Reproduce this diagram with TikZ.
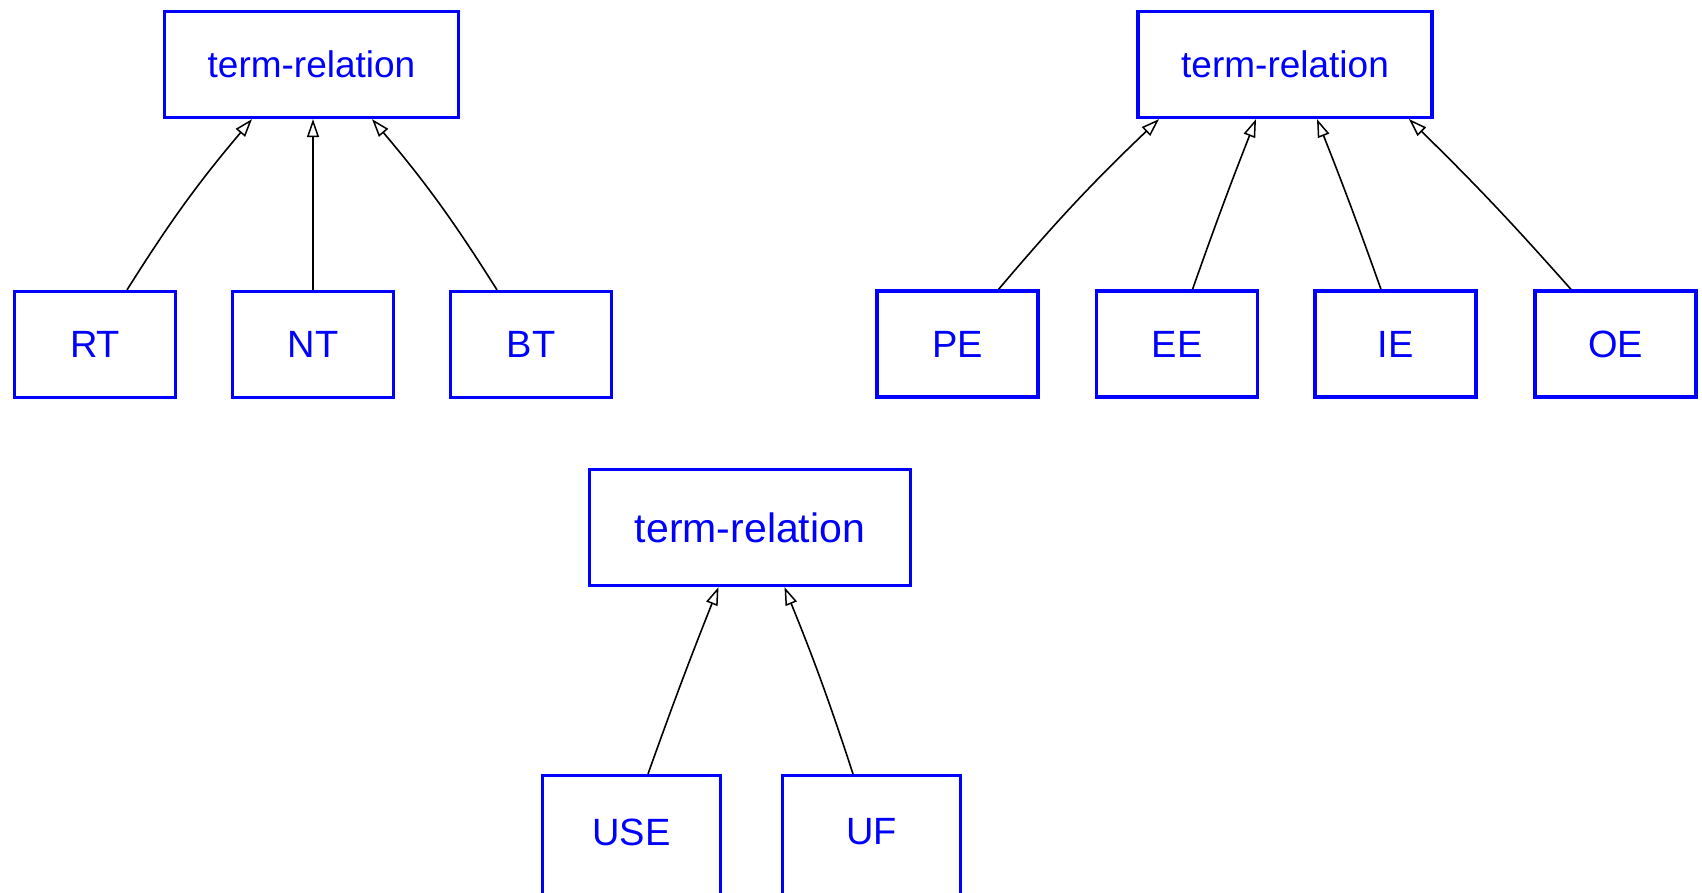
\documentclass[tikz,border=0pt]{standalone}
\usepackage{fontspec}
\setmainfont{Liberation Sans}
\usetikzlibrary{arrows.meta}
\definecolor{boxblue}{RGB}{0,0,255}
\begin{document}
\begin{tikzpicture}[x=1pt,y=1pt,
  relbox/.style={draw=boxblue, line width=3.2pt, text=boxblue, rectangle,
    minimum width=294pt, minimum height=106pt, inner sep=0pt, font=\fontsize{37}{40}\selectfont},
  relboxbig/.style={relbox, minimum width=321pt, minimum height=116pt, font=\fontsize{41}{44}\selectfont},
  kindbox/.style={draw=boxblue, line width=3.2pt, text=boxblue, rectangle,
    minimum width=161pt, minimum height=106pt, inner sep=0pt, font=\fontsize{38}{41}\selectfont},
  kindboxwide/.style={kindbox, minimum width=178pt, minimum height=140pt},
  edge/.style={draw=black, line width=1.6pt, -{Triangle[open, length=18pt, width=12pt, line width=1.5pt]}}
]
\useasboundingbox (0,0) rectangle (1702,-892);
\clip (0,0) rectangle (1702,-892);

% tree 1
\node[relbox] (tr1) at (311.5,-64.5) {term-relation};
\node[kindbox] (rt) at (95,-344.5) {RT};
\node[kindbox] (nt) at (313,-344.5) {NT};
\node[kindbox] (bt) at (531,-344.5) {BT};

% tree 2
\node[relbox] (tr2) at (1285,-64.5) {term-relation};
\node[kindbox] (pe) at (957.5,-344) {PE};
\node[kindbox] (ee) at (1177,-344) {EE};
\node[kindbox] (ie) at (1395.5,-344) {IE};
\node[kindbox] (oe) at (1615.5,-344) {OE};

% tree 3
\node[relboxbig] (tr3) at (750,-527.5) {term-relation};
\node[kindboxwide] (use) at (631.5,-845.5) {};
\node[kindboxwide] (uf) at (871.5,-845.5) {};
\node[text=boxblue, font=\fontsize{38}{41}\selectfont, inner sep=0pt] (uset) at (631.5,-832) {USE};
\node[text=boxblue, font=\fontsize{38}{41}\selectfont, inner sep=0pt] (uft) at (871.5,-832) {UF};

% edges tree 1
\draw[edge] ([xshift=32pt]rt.north) to[bend left=4] ([xshift=-59.5pt]tr1.south);
\draw[edge] (nt.north) -- (nt.north |- tr1.south);
\draw[edge] ([xshift=-34pt]bt.north) to[bend right=4] ([xshift=60.5pt]tr1.south);

% edges tree 2
\draw[edge] ([xshift=41pt]pe.north) to[bend left=3] ([xshift=-126pt]tr2.south);
\draw[edge] ([xshift=15.5pt]ee.north) to[bend left=1] ([xshift=-29pt]tr2.south);
\draw[edge] ([xshift=-14.5pt]ie.north) to[bend right=1] ([xshift=32pt]tr2.south);
\draw[edge] ([xshift=-44.5pt]oe.north) to[bend right=2] ([xshift=124pt]tr2.south);

% edges tree 3
\draw[edge] ([xshift=16.5pt]use.north) to[bend left=1] ([xshift=-31.5pt]tr3.south);
\draw[edge] ([xshift=-18.5pt]uf.north) to[bend right=2] ([xshift=34.5pt]tr3.south);
\end{tikzpicture}
\end{document}
